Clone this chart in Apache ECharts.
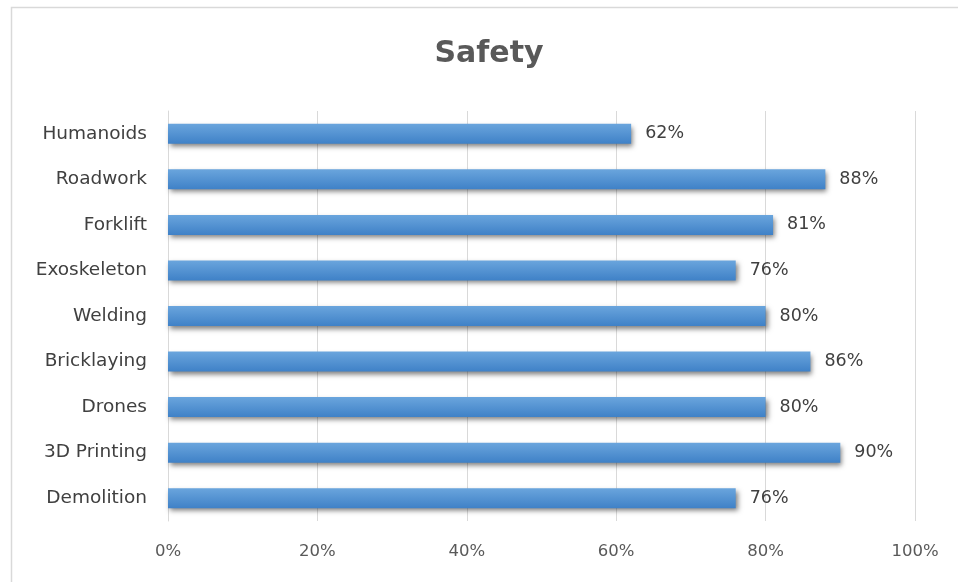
<!DOCTYPE html>
<html><head><meta charset="utf-8">
<script src="https://cdn.jsdelivr.net/npm/echarts@6/dist/echarts.min.js"></script>
<style>html,body{margin:0;padding:0;background:#fff}#c{width:958px;height:582px}</style>
</head><body><div id="c"></div>
<script>
const categories = ['Humanoids','Roadwork','Forklift','Exoskeleton','Welding','Bricklaying','Drones','3D Printing','Demolition'];
const values = [62,88,81,76,80,86,80,90,76];
const tickLabels = ['0%','20%','40%','60%','80%','100%'];

const F = 'DejaVu Sans';
const chart = echarts.init(document.getElementById('c'));
chart.setOption({
  animation:false,
  graphic:[{type:'rect',shape:{x:11.5,y:7.5,width:1000,height:640},style:{fill:null,stroke:'#d9d9d9',lineWidth:1.5},silent:true}],
  title:{text:'Safety',left:484,top:34,textAlign:'center',textStyle:{fontFamily:F,fontSize:30,fontWeight:'bold',color:'#595959'}},
  grid:{left:168,right:43,top:111,bottom:61},
  xAxis:{type:'value',min:0,max:100,interval:20,
    axisLine:{show:false},axisTick:{show:false},
    splitLine:{lineStyle:{color:'#d9d9d9',width:1}},
    axisLabel:{margin:22,fontFamily:F,fontSize:16.5,color:'#595959',formatter:(v)=>tickLabels[v/20]}},
  yAxis:{type:'category',data:categories,inverse:true,
    axisLine:{show:true,lineStyle:{color:'#d9d9d9'}},axisTick:{show:false},
    axisLabel:{margin:21,fontFamily:F,fontSize:18.5,color:'#404040'}},
  series:[{type:'bar',data:values,barWidth:20,
    itemStyle:{color:new echarts.graphic.LinearGradient(0,0,0,1,[{offset:0,color:'#6aa5dd'},{offset:1,color:'#3f81c7'}]),
      shadowColor:'rgba(0,0,0,0.5)',shadowBlur:5,shadowOffsetX:2,shadowOffsetY:3},
    label:{show:true,position:'right',distance:14,fontFamily:F,fontSize:17.5,color:'#404040',formatter:(p)=>p.value+'%'}}]
});
</script></body></html>
